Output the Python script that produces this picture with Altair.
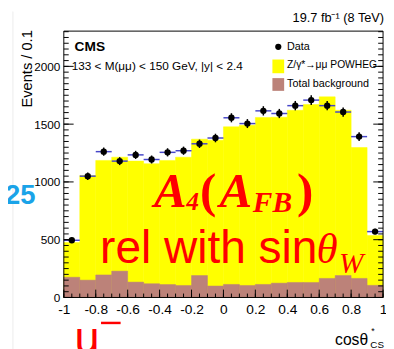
import altair as alt
import pandas as pd

# ---------------- data ----------------
bin_lo = [-1.0, -0.9, -0.8, -0.7, -0.6, -0.5, -0.4, -0.3, -0.2, -0.1,
          0.0, 0.1, 0.2, 0.3, 0.4, 0.5, 0.6, 0.7, 0.8, 0.9]
bin_hi = [-0.9, -0.8, -0.7, -0.6, -0.5, -0.4, -0.3, -0.2, -0.1, 0.0,
          0.1, 0.2, 0.3, 0.4, 0.5, 0.6, 0.7, 0.8, 0.9, 1.0]
data_counts = [495, 1050, 1262, 1180, 1234, 1194, 1256, 1270, 1330, 1380,
               1555, 1505, 1615, 1592, 1660, 1708, 1660, 1605, 1392, 570]
mc_total = [475, 1055, 1186, 1214, 1180, 1158, 1186, 1214, 1370, 1361,
            1477, 1491, 1558, 1560, 1620, 1670, 1736, 1620, 1298, 536]
background = [175, 150, 195, 228, 133, 119, 112, 104, 190, 99,
              113, 104, 113, 124, 130, 130, 165, 190, 165, 105]

x_major = [-1, -0.8, -0.6, -0.4, -0.2, 0, 0.2, 0.4, 0.6, 0.8, 1]
x_minor = [round(-1 + 0.05 * k, 2) for k in range(41)]
y_major = [0, 500, 1000, 1500, 2000]
y_minor = [50 * k for k in range(47)]

W, H = 326, 272
YMAX = 2305
FONT = "Liberation Sans"
SERIF = "Liberation Serif"

df = pd.DataFrame({"lo": bin_lo, "hi": bin_hi, "data": data_counts,
                   "mc": mc_total, "bkg": background})

xs = alt.Scale(domain=[-1, 1], nice=False, zero=False)
ys = alt.Scale(domain=[0, YMAX], nice=False)

x_axis = alt.Axis(values=x_major, labelExpr="'' + datum.value", ticks=False,
                  domain=False, grid=False, labelFontSize=14, labelFont=FONT,
                  labelColor="black", labelPadding=5, labelFlush=False,
                  labelOverlap=False, title=None)
y_axis = alt.Axis(values=y_major, labelExpr="'' + datum.value", ticks=False,
                  domain=False, grid=False, labelFontSize=12, labelFont=FONT,
                  labelColor="black", labelPadding=4, labelOverlap=False, title=None)


def X(field):
    return alt.X(field, scale=xs, axis=x_axis)


def Y(field):
    return alt.Y(field, scale=ys, axis=y_axis)


base = alt.Chart(df)

mc_bars = base.mark_rect(color="#ffff00", stroke="#ffff00", strokeWidth=0.5).encode(
    x=X("lo:Q"), x2="hi:Q", y=Y("mc:Q"), y2=alt.datum(0))

bkg_bars = base.mark_rect(color="#bc8279", stroke="#bc8279", strokeWidth=0.5).encode(
    x=X("lo:Q"), x2="hi:Q", y=Y("bkg:Q"), y2=alt.datum(0))

xerr = base.mark_rule(color="#4646c8", strokeWidth=1.5).encode(
    x=X("lo:Q"), x2="hi:Q", y=Y("data:Q"))

yerr = base.transform_calculate(
    xc="(datum.lo + datum.hi) / 2",
    lo_e="datum.data - sqrt(datum.data)", hi_e="datum.data + sqrt(datum.data)"
).mark_rule(color="black", strokeWidth=1.5).encode(
    x=X("xc:Q"), y=Y("lo_e:Q"), y2="hi_e:Q")

pts = base.transform_calculate(xc="(datum.lo + datum.hi) / 2").mark_point(
    filled=True, color="black", size=42, opacity=1).encode(
    x=X("xc:Q"), y=Y("data:Q"))


# ---------------- inward ticks ----------------
def yticks(vals, length, right=False):
    d = pd.DataFrame({"v": vals})
    if right:
        xv, x2v = W, W - length
    else:
        xv, x2v = 0, length
    return alt.Chart(d).mark_rule(color="black", strokeWidth=1).encode(
        y=Y("v:Q"), x=alt.value(xv), x2=alt.value(x2v))


def xticks(vals, length):
    d = pd.DataFrame({"v": vals})
    return alt.Chart(d).mark_rule(color="black", strokeWidth=1).encode(
        x=X("v:Q"), y=alt.value(H), y2=alt.value(H - length))


ticks = [yticks(y_minor, 5), yticks(y_major, 10),
         yticks(y_minor, 5, True), yticks(y_major, 10, True),
         xticks(x_minor, 4), xticks(x_major, 8)]

one = pd.DataFrame({"t": [""]})


def txt(s, x, y, size, color="black", font=FONT, weight="normal", style="normal",
        align="left", baseline="alphabetic", angle=0):
    return alt.Chart(pd.DataFrame({"t": [s]})).mark_text(
        align=align, baseline=baseline, font=font, fontSize=size,
        fontWeight=weight, fontStyle=style, color=color, angle=angle).encode(
        x=alt.value(x), y=alt.value(y), text="t:N")


frame = alt.Chart(one).mark_rect(fillOpacity=0, stroke="black", strokeWidth=1).encode(
    x=alt.value(0), x2=alt.value(W), y=alt.value(0), y2=alt.value(H))

slide_line = alt.Chart(one).mark_rule(color="#ececec", strokeWidth=1).encode(
    x=alt.value(-52), y=alt.value(-20), y2=alt.value(325))

# legend
leg_dot = alt.Chart(one).mark_point(filled=True, color="black", size=40, opacity=1).encode(
    x=alt.value(219), y=alt.value(16))
leg_y = alt.Chart(one).mark_rect(color="#ffff00").encode(
    x=alt.value(213), x2=alt.value(225), y=alt.value(29), y2=alt.value(43))
leg_b = alt.Chart(one).mark_rect(color="#bc8279").encode(
    x=alt.value(213), x2=alt.value(225), y=alt.value(48), y2=alt.value(61))

texts = [
    txt("CMS", 11, 20, 14, weight="bold"),
    txt("133 < M(\u03bc\u03bc) < 150 GeV, |y| < 2.4", 8, 40, 12),
    txt("Data", 228, 16, 11, baseline="middle"),
    txt("Z/\u03b3*\u2192\u03bc\u03bc POWHEG", 228, 35, 10.5, baseline="middle"),
    txt("Total background", 228, 54, 11, baseline="middle"),
    txt("19.7 fb\u207b\u00b9 (8 TeV)", 327, -9, 13, align="right"),
    txt("Events / 0.1", -38, -1, 15, align="right", baseline="middle", angle=270),
    txt("cos\u03b8", 277, 321, 16),
    txt("*", 314, 309, 9),
    txt("CS", 313, 324, 10),
    # overlay annotations
    txt("A", 92, 180, 50, color="#ff0000", font=SERIF, weight="bold", style="italic"),
    txt("4", 125, 183, 26, color="#ff0000", font=SERIF, weight="bold", style="italic"),
    txt("(", 139, 180, 50, color="#ff0000", font=SERIF, weight="bold"),
    txt("A", 159, 180, 50, color="#ff0000", font=SERIF, weight="bold", style="italic"),
    txt("FB", 193, 185, 30, color="#ff0000", font=SERIF, weight="bold", style="italic"),
    txt(")", 238, 180, 50, color="#ff0000", font=SERIF, weight="bold"),
    txt("rel with sin", 37, 237, 47, color="#ff0000"),
    txt("\u03b8", 258, 237, 44, color="#ff0000", font=SERIF, style="italic"),
    txt("W", 281, 247, 30, color="#ff0000", font=SERIF, style="italic"),
    txt("325", -29, 177, 28, color="#1aa3e8", weight="bold", align="right"),
    txt("u", 11, 329, 46, color="#ff0000"),
]

minus_bar = alt.Chart(one).mark_rule(color="#ff0000", strokeWidth=2.5).encode(
    x=alt.value(38), x2=alt.value(58), y=alt.value(298))

chart = alt.layer(
    slide_line, mc_bars, bkg_bars, xerr, yerr, pts, *ticks, frame,
    leg_dot, leg_y, leg_b, *texts, minus_bar
).properties(
    width=W, height=H,
    padding={"left": 57, "top": 20, "right": 3, "bottom": 49},
    autosize=alt.AutoSizeParams(type="none"),
    background="white",
).configure_view(strokeWidth=0)

chart.save("out.html", embed_options={"renderer": "svg", "actions": False})
